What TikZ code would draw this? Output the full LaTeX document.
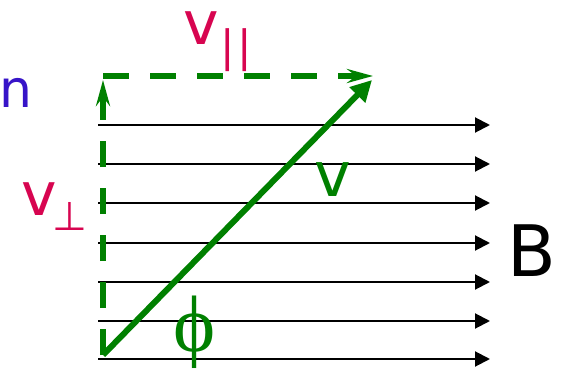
\documentclass[tikz,border=0pt]{standalone}
\usepackage{fontspec}
\setmainfont{DejaVu Sans}
\newfontfamily\greekfont{Liberation Serif}
\usetikzlibrary{arrows.meta}
\definecolor{velcol}{RGB}{0,128,0}
\definecolor{compcol}{RGB}{215,5,80}
\definecolor{normcol}{RGB}{55,20,200}
\tikzset{
  fieldline/.style={-{Triangle[length=15pt,width=15pt]},draw=black,line width=2pt},
  velarrow/.style={-{Triangle[length=21pt,width=21pt]},draw=velcol,line width=6pt},
  compline/.style={-{Stealth[length=26pt,width=14pt,inset=9pt]},draw=velcol,line width=6.5pt,dash pattern=on 26pt off 21pt},
  lbl/.style={inner sep=0pt,font=\fontsize{#1}{#1}\selectfont}
}

\begin{document}
\begin{tikzpicture}[x=1pt,y=-1pt]
\useasboundingbox (0,0) rectangle (563,369);
% ---- field lines B ----
\foreach \i/\y in {1/125,2/164,3/203,4/243,5/282,6/321,7/359}{
  \coordinate (f\i s) at (98,\y);
  \coordinate (f\i e) at (490,\y);
  \draw[fieldline] (f\i s)--(f\i e);}
\node[lbl=71] (Blab) at (532,251) {B};
% ---- velocity and its components ----
\coordinate (orig) at (103,355);
\coordinate (vtip) at (372,80);
\coordinate (ntip) at (103,80);
\coordinate (corner) at (103,76);
\coordinate (ptip) at (373,76);
\draw[compline] (orig)--(ntip);
\draw[compline] (corner)--(ptip);
\draw[velarrow] (orig)--(vtip);
% ---- labels ----
\node[lbl=60,text=compcol,anchor=base west] (vpar) at (183,45)
  {v\kern2pt\raisebox{-17pt}{\fontsize{43}{43}\selectfont|\kern2.5pt|}};
\node[lbl=60,text=compcol,anchor=base west] (vperp) at (21,215)
  {v\kern-4pt\raisebox{-15pt}{\fontsize{40}{40}\selectfont ⊥}};
\node[lbl=52,text=normcol] (nlab) at (16,93) {n};
\node[lbl=62,text=velcol] (vlab) at (333,180) {v};
\node[lbl=80,text=velcol] (philab) at (195,332) {\greekfont ϕ};
\end{tikzpicture}
\end{document}
